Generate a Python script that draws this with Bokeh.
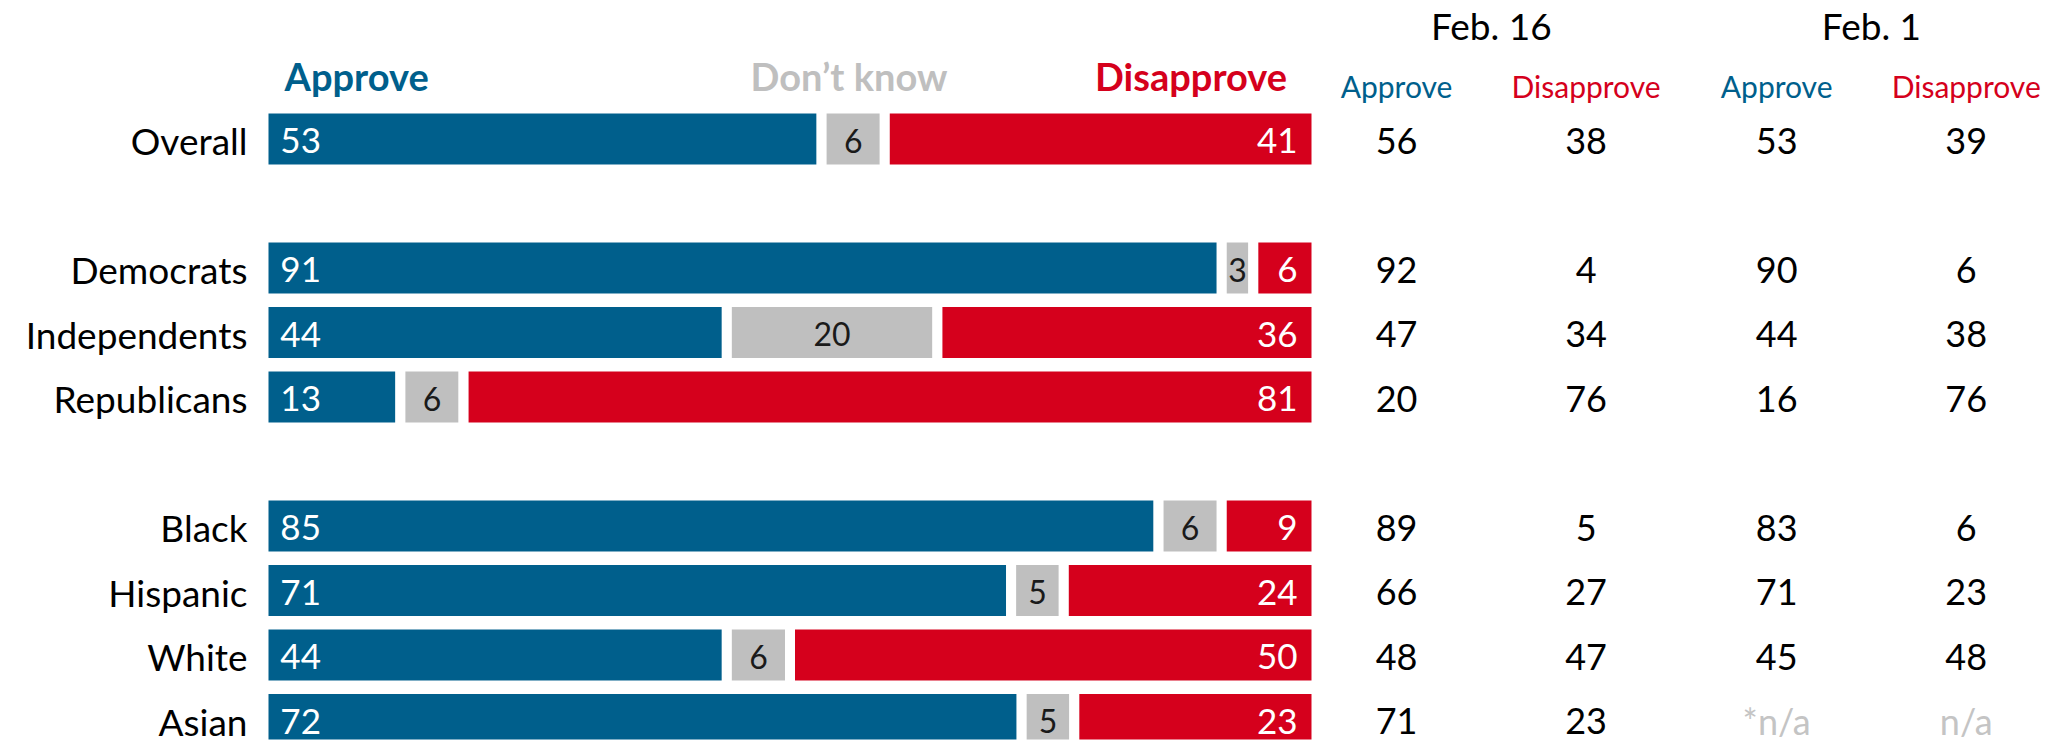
import numpy as np
from bokeh.plotting import figure
from bokeh.models import ColumnDataSource, Range1d
from bokeh.core.properties import value
from bokeh.embed import file_html
from bokeh.resources import INLINE

# ---------------- data ----------------
groups = ["Overall", "Democrats", "Independents", "Republicans",
          "Black", "Hispanic", "White", "Asian"]
approve = [53, 91, 44, 13, 85, 71, 44, 72]
dont_know = [6, 3, 20, 6, 6, 5, 6, 5]
disapprove = [41, 6, 36, 81, 9, 24, 50, 23]

feb16_approve = ["56", "92", "47", "20", "89", "66", "48", "71"]
feb16_disapprove = ["38", "4", "34", "76", "5", "27", "47", "23"]
feb1_approve = ["53", "90", "44", "16", "83", "71", "45", "*n/a"]
feb1_disapprove = ["39", "6", "38", "76", "6", "23", "48", "n/a"]

# ---------------- layout / style ----------------
row_slot = np.array([0, 2, 3, 4, 6, 7, 8, 9], dtype=float)  # blank slots between blocks
BLUE = "#005F8C"
RED = "#D5001C"
GREY = "#BFBFBF"
GREY_TXT = "#C4C4C4"
FONT = value("Lato")

W, H = 2057, 744
p = figure(width=W, height=H, output_backend="svg", toolbar_location=None,
           x_range=Range1d(-24.976, 170.37), y_range=Range1d(9.388, -2.147),
           min_border=0, outline_line_color=None, background_fill_color="white",
           border_fill_color="white")
p.axis.visible = False
p.grid.visible = False

a = np.array(approve, float)
d = np.array(dont_know, float)
r = np.array(disapprove, float)

src = ColumnDataSource(dict(
    y=row_slot,
    a_l=np.zeros_like(a), a_r=a,
    d_l=a, d_r=a + d,
    r_l=a + d, r_r=a + d + r,
))
BH = 0.946
p.hbar(y="y", left="a_l", right="a_r", height=BH, source=src,
       fill_color=BLUE, line_color="white", line_width=10)
p.hbar(y="y", left="d_l", right="d_r", height=BH, source=src,
       fill_color=GREY, line_color="white", line_width=10)
p.hbar(y="y", left="r_l", right="r_r", height=BH, source=src,
       fill_color=RED, line_color="white", line_width=10)

num_off = 0.03
# labels inside bars
p.text(x=np.full(len(a), 1.6), y=row_slot + num_off, text=[str(v) for v in approve],
       text_font=FONT, text_font_size="35px", text_color="white",
       text_align="left", text_baseline="middle")
p.text(x=a + d / 2, y=row_slot + num_off, text=[str(v) for v in dont_know],
       text_font=FONT, text_font_size="32px", text_color="#1a1a1a",
       text_align="center", text_baseline="middle")
p.text(x=a + d + r - 1.8, y=row_slot + num_off, text=[str(v) for v in disapprove],
       text_font=FONT, text_font_size="35px", text_color="white",
       text_align="right", text_baseline="middle")

# row labels
p.text(x=np.full(len(a), -1.52), y=row_slot + 0.03, text=groups,
       text_font=FONT, text_font_size="37px", text_color="black",
       text_align="right", text_baseline="middle")

# bar headers
hy = -0.984
p.text(x=[2.0], y=[hy], text=["Approve"], text_font=FONT, text_font_size="38px",
       text_font_style="bold", text_color=BLUE, text_align="left", text_baseline="middle")
p.text(x=[55.6], y=[hy], text=["Don\u2019t know"], text_font=FONT, text_font_size="38px",
       text_font_style="bold", text_color=GREY, text_align="center", text_baseline="middle")
p.text(x=[97.2], y=[hy], text=["Disapprove"], text_font=FONT, text_font_size="38px",
       text_font_style="bold", text_color=RED, text_align="right", text_baseline="middle")

# table
col_x = [107.6, 125.6, 143.7, 161.7]
cols = [feb16_approve, feb16_disapprove, feb1_approve, feb1_disapprove]
for cx, vals in zip(col_x, cols):
    colors = [GREY_TXT if "n/a" in v else "black" for v in vals]
    p.text(x=np.full(len(vals), cx), y=row_slot + 0.03, text=vals,
           text_font=FONT, text_font_size="36px", text_color=colors,
           text_align="center", text_baseline="middle")

sub_y = -0.814
for cx, lab, c in zip(col_x, ["Approve", "Disapprove", "Approve", "Disapprove"],
                      [BLUE, RED, BLUE, RED]):
    p.text(x=[cx], y=[sub_y], text=[lab], text_font=FONT, text_font_size="30px",
           text_color=c, text_align="center", text_baseline="middle")

date_y = -1.752
p.text(x=[(col_x[0] + col_x[1]) / 2, (col_x[2] + col_x[3]) / 2], y=[date_y, date_y],
       text=["Feb. 16", "Feb. 1"], text_font=FONT, text_font_size="37px",
       text_color="black", text_align="center", text_baseline="middle")

open("out.html", "w").write(file_html(p, INLINE))
